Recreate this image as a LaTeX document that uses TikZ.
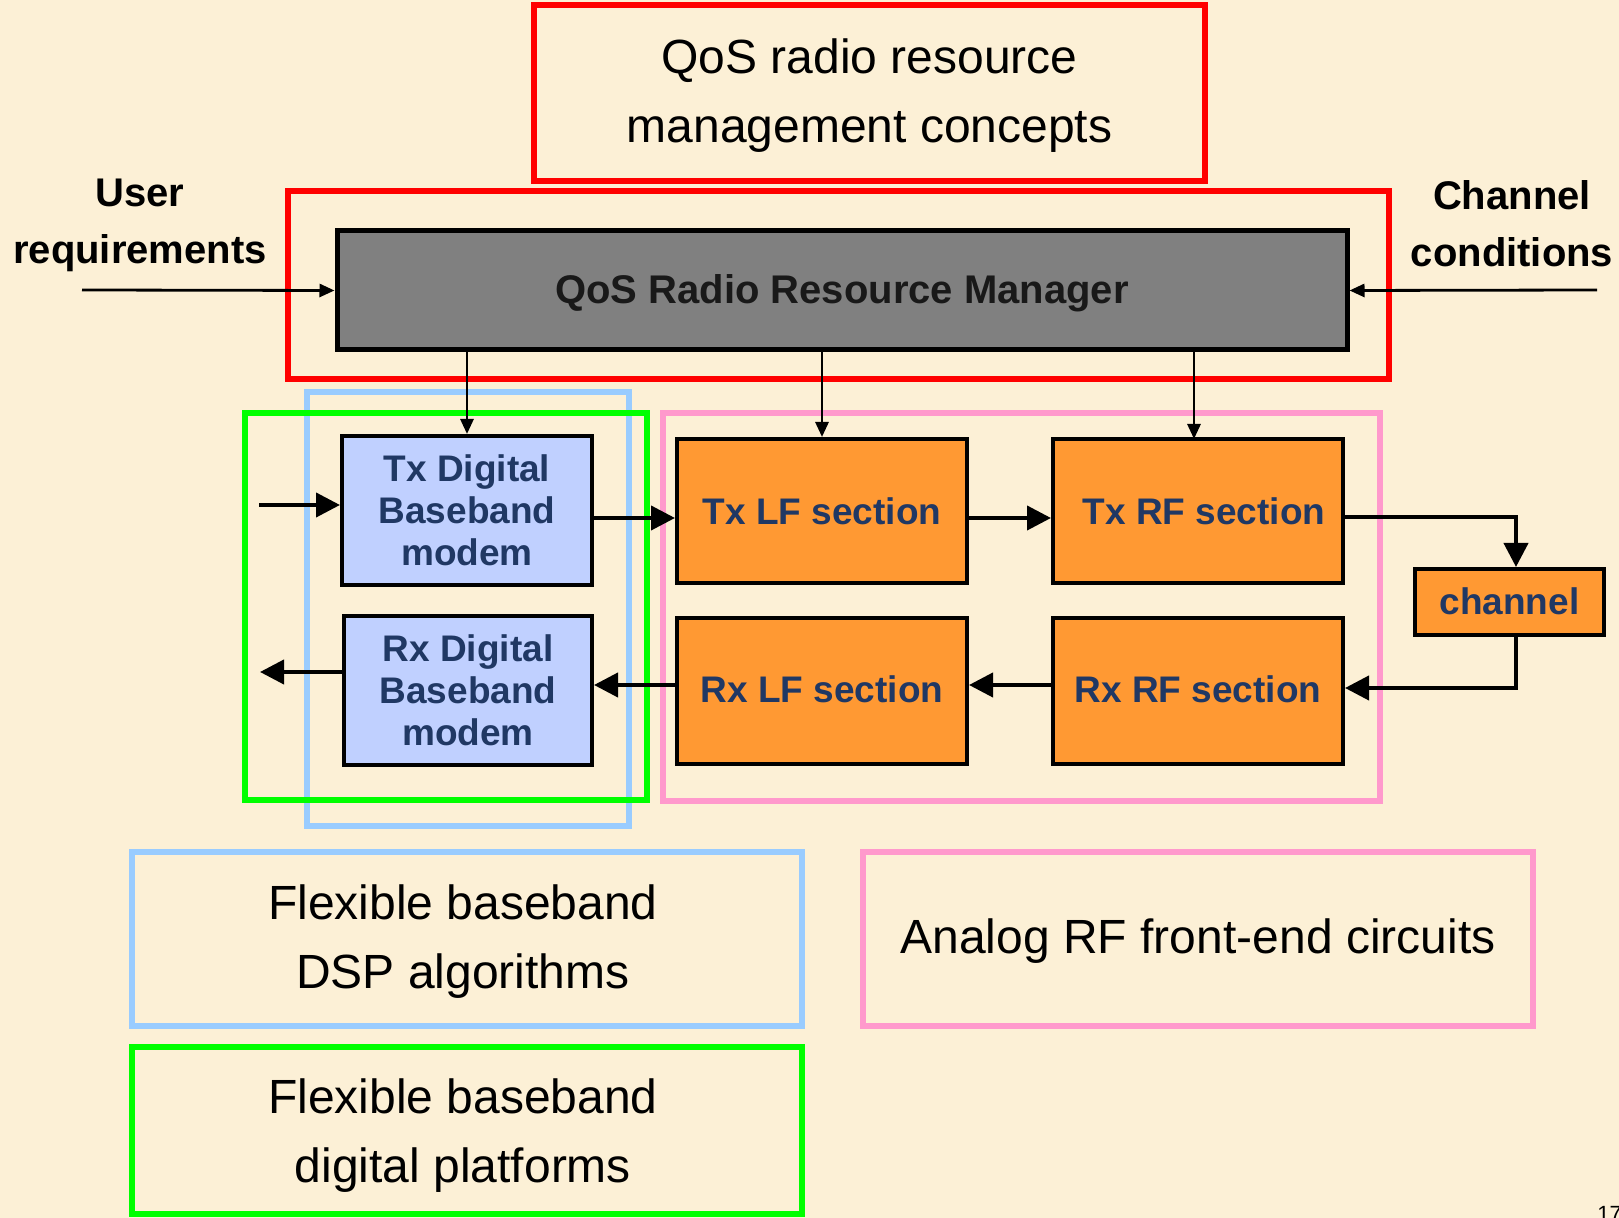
\documentclass[tikz,border=0pt]{standalone}
\usepackage{fontspec}
\setmainfont{Liberation Sans}
\usetikzlibrary{arrows.meta}

\definecolor{paper}{RGB}{252,240,214}
\definecolor{navy}{RGB}{32,56,100}
\definecolor{blockorange}{RGB}{255,153,51}
\definecolor{modemblue}{RGB}{192,208,255}
\definecolor{mgrgray}{RGB}{128,128,128}
\definecolor{framered}{RGB}{255,0,0}
\definecolor{frameblue}{RGB}{153,204,255}
\definecolor{framegreen}{RGB}{0,255,0}
\definecolor{framepink}{RGB}{255,153,204}

\tikzset{
  frame/.style={line width=3pt},
  block/.style={draw=black, line width=2pt, inner sep=0pt, align=center,
    text=navy, font=\bfseries\fontsize{18.5}{21}\selectfont},
  modem/.style={block, fill=modemblue},
  rfblock/.style={block, fill=blockorange},
  caption/.style={inner sep=0pt, align=center, text=black,
    font=\fontsize{24}{34.5}\selectfont},
  sidelabel/.style={align=center, inner sep=0pt,
    font=\bfseries\fontsize{20}{28.5}\selectfont},
  ctrl/.style={line width=1.4pt, -{Triangle[length=7.5pt,width=6.5pt]}},
  sig/.style={line width=2pt, -{Triangle[length=12pt,width=12pt]}},
}

\begin{document}
\begin{tikzpicture}[x=0.5pt, y=-0.5pt]
  % page and background
  \useasboundingbox (0,0) rectangle (1619,1218);
  \fill[paper] (0,0) rectangle (1619,1218);

  % concept caption on top
  \draw[frame, framered] (534,5) rectangle (1205,181);
  \node[caption] (qosconcept) at (869.5,96) {QoS radio resource\\management concepts};

  % resource manager and its frame
  \draw[frame, framered] (288,191) rectangle (1389,379);
  \node[draw=black, line width=2.5pt, fill=mgrgray, minimum width=505pt,
    minimum height=59.5pt, inner sep=0pt, text={black!90},
    text height=17.5pt, text depth=4pt,
    font=\bfseries\fontsize{20}{24}\selectfont]
    (qrm) at (842,290.5) {QoS Radio Resource Manager};

  \node[sidelabel] (userreq) at (140,225.5) {User\\requirements};
  \node[sidelabel] (chancond) at (1512,223.5) {Channel\\conditions};
  \coordinate (userin) at (82,290);
  \coordinate (chanin) at (1597,290);
  \draw[ctrl] (userin) -- (qrm.west);
  \draw[ctrl] (chanin) -- (qrm.east);

  % grouping frames
  \draw[frame, frameblue] (307,392) rectangle (629,826);
  \draw[frame, framegreen] (245,413) rectangle (647,800);
  \draw[frame, framepink] (663,413) rectangle (1380,801);

  % processing blocks
  \node[modem, minimum width=125pt, minimum height=74.5pt]
    (txd) at (467,510.5) {Tx Digital\\Baseband\\modem};
  \node[modem, minimum width=124pt, minimum height=74.5pt]
    (rxd) at (468,690.5) {Rx Digital\\Baseband\\modem};
  \node[rfblock, minimum width=145pt, minimum height=72pt]
    (txlf) at (822,511) {Tx LF section};
  \node[rfblock, minimum width=145pt, minimum height=72pt]
    (txrf) at (1198,511) {\hspace{6pt}Tx RF section};
  \node[rfblock, minimum width=145pt, minimum height=73pt]
    (rxlf) at (822,691) {\raisebox{1.5pt}{Rx LF section}};
  \node[rfblock, minimum width=145pt, minimum height=73pt]
    (rxrf) at (1198,691) {\raisebox{1.5pt}{Rx RF section}};
  \node[rfblock, minimum width=94.5pt, minimum height=33pt]
    (ch) at (1509.5,602) {\raisebox{1pt}{channel}};

  % control links from the manager
  \draw[ctrl] (txd.north |- qrm.south) -- (txd.north);
  \draw[ctrl] (txlf.north |- qrm.south) -- (txlf.north);
  \draw[ctrl] (1194,350) -- (1194,439);

  % signal chain
  \coordinate (datain) at (259,505);
  \coordinate (dataout) at (260,672);
  \draw[sig] (datain) -- (txd.west |- 0,505);
  \draw[sig] (txd.east |- 0,518) -- (txlf.west |- 0,518);
  \draw[sig] (txlf.east |- 0,518) -- (txrf.west |- 0,518);
  \draw[sig] (txrf.east |- 0,517) -| (ch.north -| 1516,0);
  \draw[sig] (ch.south -| 1516,0) |- (rxrf.east |- 0,688);
  \draw[sig] (rxrf.west |- 0,685) -- (rxlf.east |- 0,685);
  \draw[sig] (rxlf.west |- 0,685) -- (rxd.east |- 0,685);
  \draw[sig] (rxd.west |- 0,672) -- (dataout);

  % legend captions
  \draw[frame, frameblue] (132,852) rectangle (802,1026);
  \node[caption] (dspcap) at (463,942) {Flexible baseband\\DSP algorithms};
  \draw[frame, framepink] (863,852) rectangle (1533,1026);
  \node[caption] (rfcap) at (1198,941) {Analog RF front-end circuits};
  \draw[frame, framegreen] (132,1047) rectangle (802,1214);
  \node[caption] (platcap) at (463,1136) {Flexible baseband\\digital platforms};

  % page number
  \node[anchor=north west, inner sep=0pt, font=\fontsize{11}{13}\selectfont]
    (pagenum) at (1597,1206) {17};
\end{tikzpicture}
\end{document}
